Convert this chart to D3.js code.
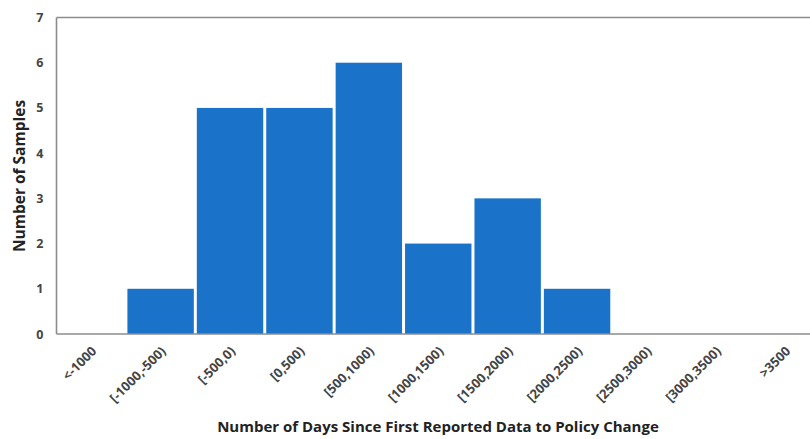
<!DOCTYPE html>
<html><head><meta charset="utf-8">
<script src="https://cdn.jsdelivr.net/npm/d3@7"></script>
<style>body{margin:0;background:#fff}svg{display:block}text{font-family:"Open Sans","Noto Sans",sans-serif}</style>
</head><body><svg id="c" width="810" height="439"></svg>
<script>
const categories = ["<-1000","[-1000,-500)","[-500,0)","[0,500)","[500,1000)","[1000,1500)","[1500,2000)","[2000,2500)","[2500,3000)","[3000,3500)",">3500"];
const counts = [0,1,5,5,6,2,3,1,0,0,0];
const yTicks = [0,1,2,3,4,5,6,7];

const svg = d3.select("#c");
const m = {l:56.5, t:17.5, r:820, b:334};
const x = d3.scaleBand().domain(categories).range([m.l, m.r]).paddingInner(0).paddingOuter(0);
const y = d3.scaleLinear().domain([0,7]).range([m.b, m.t]);

// bars
svg.append("g").selectAll("rect").data(categories).join("rect")
  .attr("x", d => x(d) + 1.5)
  .attr("width", x.bandwidth() - 3)
  .attr("y", (d,i) => y(counts[i]))
  .attr("height", (d,i) => y(0) - y(counts[i]))
  .attr("fill", "#1a73c9");

// frame lines
const frame = svg.append("g").attr("stroke", "#8c8c8c").attr("stroke-width", 1.6).attr("fill","none");
frame.append("line").attr("x1", m.l).attr("x2", m.l).attr("y1", m.t).attr("y2", m.b);
frame.append("line").attr("x1", m.l).attr("x2", 810).attr("y1", m.t).attr("y2", m.t);
frame.append("line").attr("x1", m.l).attr("x2", 810).attr("y1", m.b).attr("y2", m.b);

// y axis
const ya = svg.append("g").attr("transform", `translate(${m.l},0)`)
  .call(d3.axisLeft(y).tickValues(yTicks).tickFormat(d3.format("d")).tickSize(0).tickPadding(13));
ya.select(".domain").remove();
ya.selectAll("text").attr("font-size", 12.5).attr("font-weight", "bold").attr("fill", "#444")
  .attr("font-family", "'Open Sans','Noto Sans',sans-serif");

// x axis
const xa = svg.append("g").attr("transform", `translate(0,${m.b})`)
  .call(d3.axisBottom(x).tickSize(0).tickPadding(0));
xa.select(".domain").remove();
xa.selectAll("text")
  .attr("font-size", 13).attr("font-weight", "bold").attr("fill", "#444")
  .attr("font-family", "'Open Sans','Noto Sans',sans-serif")
  .attr("text-anchor", "end")
  .attr("dy", null)
  .attr("transform", "translate(6,18) rotate(-45)");

// titles
svg.append("text").attr("x", 438).attr("y", 432).attr("text-anchor","middle")
  .attr("font-size", 15).attr("font-weight","bold").attr("fill","#222")
  .text("Number of Days Since First Reported Data to Policy Change");
svg.append("text").attr("transform","translate(25,176) rotate(-90)").attr("text-anchor","middle")
  .attr("font-size", 15.5).attr("font-weight","bold").attr("fill","#222")
  .text("Number of Samples");
</script></body></html>
